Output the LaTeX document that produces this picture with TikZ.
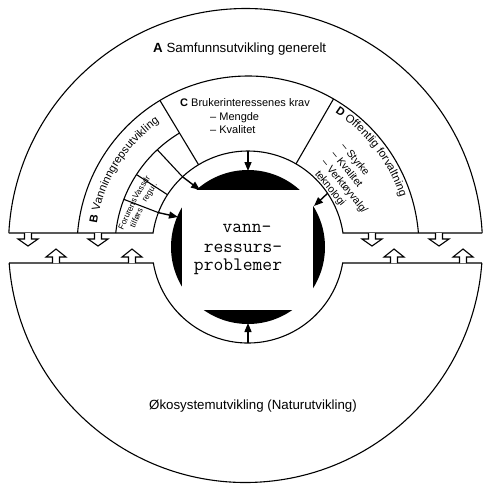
\documentclass[tikz,border=0pt]{standalone}
\usepackage{fontspec}
\setmainfont{Liberation Sans}
\usetikzlibrary{calc,arrows.meta,decorations.text}
\begin{document}
\begin{tikzpicture}[x=1pt,y=1pt,
  ln/.style={line width=1.1pt},
  ringarr/.style={line width=1.4pt,-{Triangle[length=9pt,width=7pt]}},
  bigtxt/.style={font=\fontsize{13.3}{15}\selectfont, inner sep=0pt},
  txt/.style={font=\fontsize{11}{12.7}\selectfont, inner sep=0pt},
  listtxt/.style={font=\fontsize{10.5}{12.5}\selectfont, inner sep=0pt},
  small/.style={font=\fontsize{8.3}{9.5}\selectfont, inner sep=0pt, align=center},
  core/.style={font=\fontsize{19}{20}\selectfont\ttfamily, inner sep=0pt, anchor=base},
  downarr/.pic={\draw[line width=1.1pt,fill=white] (-3.5,0) -- (-3.5,-6) -- (-10,-6) -- (0,-13) -- (10,-6) -- (3.5,-6) -- (3.5,0);},
  uparr/.pic={\draw[line width=1.1pt,fill=white] (-3.5,0) -- (-3.5,6) -- (-10,6) -- (0,14) -- (10,6) -- (3.5,6) -- (3.5,0);}
]
\useasboundingbox (0,0) rectangle (484,-483);
\coordinate (O) at (248,-247);
\coordinate (OA) at (245.5,-245.5);

% black core with white square
\fill (O) circle[radius=77];
\fill[white] (182,-190) rectangle (313,-310);

% outer circle
\draw[ln] ($(OA)+(3.02:237)$) arc[start angle=3.02, end angle=176.98, radius=237];
\draw[ln] ($(OA)+(184.23:237)$) arc[start angle=184.23, end angle=355.77, radius=237];

% strip and ring
\draw[ln] ($(OA)+(176.98:237)$) -- ($(O)+(171.61:96)$) arc[start angle=171.61, end angle=8.39, radius=96] -- ($(OA)+(3.02:237)$);
\draw[ln] ($(OA)+(184.23:237)$) -- ($(O)+(189.59:96)$) arc[start angle=189.59, end angle=350.41, radius=96] -- ($(OA)+(355.77:237)$);

% middle arc and sectors
\draw[ln] ($(O)+(4.70:171)$) arc[start angle=4.70, end angle=175.30, radius=171];
\draw[ln] ($(O)+(121:96)$) -- ($(O)+(121:171)$);
\draw[ln] ($(O)+(60:96)$) -- ($(O)+(60:171)$);
\draw[ln] ($(O)+(173.96:133)$) arc[start angle=173.96, end angle=121, radius=133];
\foreach \a in {159,147,133} \draw[ln] ($(O)+(\a:96)$) -- ($(O)+(\a:133)$);

% strip arrows
\foreach \x in {28,98,372,439} \pic at (\x,-233) {downarr};
\foreach \x in {56,132,394,463} \pic at (\x,-263) {uparr};

% ring arrows
\coordinate (rt) at ($(O)+(90:96)$);   \coordinate (tt) at (248,-171);
\coordinate (rb) at ($(O)+(270:96)$);  \coordinate (tb) at (248,-323);
\coordinate (rl1) at ($(O)+(133:96)$); \coordinate (tl1) at (200,-190);
\coordinate (rl2) at ($(O)+(159:96)$); \coordinate (tl2) at (178,-217);
\coordinate (rr) at ($(O)+(34:96)$);   \coordinate (tr) at (314,-206);
\draw[ringarr] (rt) -- (tt);
\draw[ringarr] (rb) -- (tb);
\draw[ringarr] (rl1) -- (tl1);
\draw[ringarr] (rl2) -- (tl2);
\draw[ringarr] (rr) -- (tr);

% texts
\node[bigtxt, anchor=base west] (A) at (153,-52) {\textbf{A} Samfunnsutvikling generelt};
\node[bigtxt, anchor=base] (E) at (253,-409.5) {Økosystemutvikling (Naturutvikling)};
\node[txt, anchor=base west] (C) at (180,-106.5) {\textbf{C} Brukerinteressenes krav};
\node[txt, anchor=base west] (C1) at (210,-120) {\textendash{} Mengde};
\node[txt, anchor=base west] (C2) at (210,-133.5) {\textendash{} Kvalitet};

\path[decorate, decoration={text along path, text align=left,
  text={|\fontsize{11.3}{13}\selectfont\bfseries|B|\fontsize{11.3}{13}\selectfont\mdseries| Vanninngrepsutvikling}}]
  ($(O)+(171:153)$) arc[start angle=171, end angle=120, radius=153];
\path[decorate, decoration={text along path, text align=left,
  text={|\fontsize{11.3}{13}\selectfont\bfseries|D|\fontsize{11.3}{13}\selectfont\mdseries| Offentlig forvaltning}}]
  ($(O)+(57:160)$) arc[start angle=57, end angle=5, radius=160];

\node[listtxt, rotate=-51, anchor=north west, align=left] (D) at (346.5,-141.5) {\textendash{} Styrke\\\textendash{} Kvalitet\\\textendash{} Verktøyvalg/\\\hspace*{5pt}teknologi};

\node[small, rotate=65] (F) at (132,-216) {Forurens\\tilførs};
\node[small, rotate=57] (V) at (146,-190) {Vassdr\\regul.};

\node[core] (v1) at (247,-232) {vann-};
\node[core] (v2) at (243,-252) {ressurs-};
\node[core] (v3) at (238,-270.5) {problemer};
\end{tikzpicture}
\end{document}
